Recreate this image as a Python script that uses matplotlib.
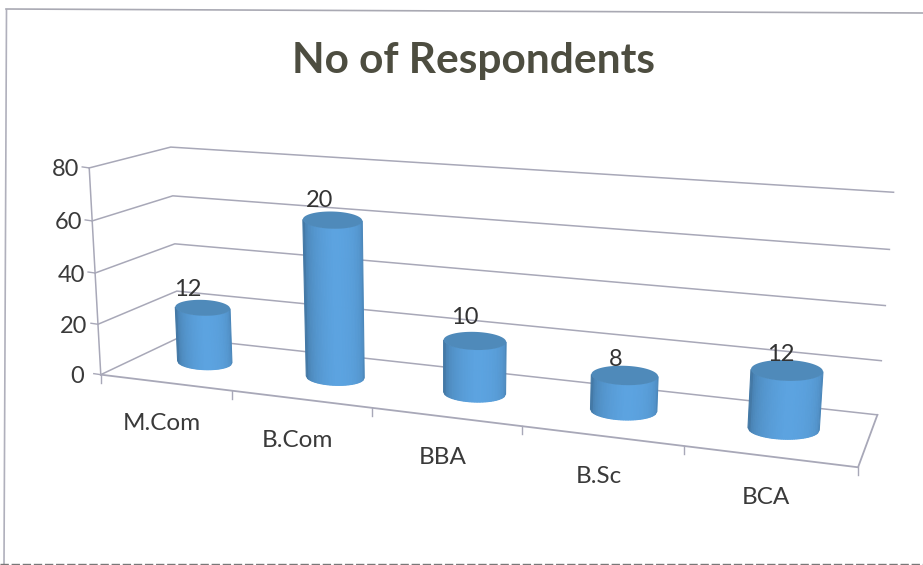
import numpy as np
from matplotlib import pyplot as plt

plt.rcParams['font.family'] = ['Lato', 'DejaVu Sans']

categories = ["M.Com", "B.Com", "BBA", "B.Sc", "BCA"]
# cylinder heights, the printed labels do not agree with them
bar_heights = [22, 61, 20, 13, 21]
bar_labels = ["12", "20", "10", "8", "12"]
y_ticks = [0, 20, 40, 60, 80]

# camera: box corners (category pos, value, depth) -> pixels in the picture
box_pts = [
    (0, 0, 0, 102, 373), (0, 20, 0, 98, 323), (0, 40, 0, 95, 273), (0, 60, 0, 92, 221), (0, 80, 0, 88, 169),
    (0, 0, 1, 178, 340), (0, 20, 1, 176, 292), (0, 40, 1, 175, 243), (0, 60, 1, 173, 195), (0, 80, 1, 172, 147),
    (5, 0, 1, 877, 413), (5, 20, 1, 882, 360), (5, 40, 1, 885, 306), (5, 60, 1, 890, 250), (5, 80, 1, 893, 192),
    (5, 0, 0, 858, 468), (1, 0, 0, 232, 390), (2, 0, 0, 372, 408), (3, 0, 0, 522, 427), (4, 0, 0, 684, 447),
]
rows = []
for u, v, d, px, py in box_pts:
    rows.append([u, v, d, 1, 0, 0, 0, 0, -px*u, -px*v, -px*d, -px])
    rows.append([0, 0, 0, 0, u, v, d, 1, -py*u, -py*v, -py*d, -py])
P = np.linalg.svd(np.array(rows, dtype=float))[2][-1].reshape(3, 4)


def proj(u, v, d):
    u, v, d = np.broadcast_arrays(u, v, d)
    h = P @ np.array([u.ravel(), v.ravel(), d.ravel(), np.ones(u.size)], dtype=float)
    return h[0] / h[2], h[1] / h[2]


def ring(cu, v, t):
    # ellipse at height v, long axis along the category direction, short axis upright
    xl, yl = proj([cu - ru, cu + ru], v, cd)
    mx, my = xl.mean(), yl.mean()
    ax_x, ax_y = (xl[1] - xl[0]) / 2, (yl[1] - yl[0]) / 2
    return mx + ax_x * np.cos(t), my + 0.3 * ax_y * np.cos(t) + 0.29 * ax_x * np.sin(t)


fig = plt.figure(figsize=(9.23, 5.65), dpi=100)
ax = fig.add_axes([0, 0, 1, 1])
ax.set_xlim(0, 923)
ax.set_ylim(565, 0)
ax.axis('off')

# chart frame of the scan
ax.plot([6.5, 4], [10, 565], color='#b0b0bc', lw=1.2)
ax.plot([6, 923], [9, 13], color='#a9a9b3', lw=1.2)
ax.plot([0, 923], [563.5, 563.5], color='#777777', lw=1, ls=(0, (6, 2)))

grid_c = '#a8a8b8'
for t in y_ticks:
    x, y = proj([0, 0, 5], t, [0, 1, 1])
    ax.plot(x, y, color=grid_c, lw=1.1)
    tx, ty = proj(0, t, 0)
    ax.plot([tx[0] - 7, tx[0]], [ty[0] - 1, ty[0]], color=grid_c, lw=1)
    ax.text(tx[0] - 24, ty[0] + 2, str(t), ha='center', va='center', fontsize=17, color='#3a3a3a')

# axes of the box
x, y = proj(0, [0, 80], 0)
ax.plot(x, y, color=grid_c, lw=1.1)
x, y = proj([0, 5, 5], 0, [0, 0, 1])
ax.plot(x, y, color=grid_c, lw=1.3)
for i in range(len(categories) + 1):
    x, y = proj(i, 0, 0)
    ax.plot([x[0], x[0]], [y[0], y[0] + 8], color=grid_c, lw=1)

# cylinders
ru, cd = 0.215, 0.52
label_dy = [-18, -20, -23, -16, -16]
t = np.arccos(np.linspace(1, -1, 41))
for i, h in enumerate(bar_heights):
    cu = i + 0.5 - 0.005
    for a, b in zip(t[:-1], t[1:]):
        tt = np.array([a, b])
        x0, y0 = ring(cu, 0, tt)
        x1, y1 = ring(cu, h, tt)
        m = (a + b) / 2
        shade = 0.72 + 0.28 * np.sin(m) ** 0.5
        if m > np.pi / 2:
            shade *= 1 - 0.12 * (m - np.pi / 2) / (np.pi / 2)
        ax.fill(np.r_[x0, x1[::-1]], np.r_[y0, y1[::-1]], color=np.array([0.36, 0.64, 0.88]) * shade,
                lw=0.8, zorder=3)
    full = np.linspace(0, 2 * np.pi, 80)
    xe, ye = ring(cu, h, full)
    ax.fill(xe, ye, color='#4f8aba', lw=0, zorder=4)
    ax.text(xe.mean() - 15 + 2 * i, ye.mean() + label_dy[i], bar_labels[i], ha='center', va='center',
            fontsize=17, color='#333333', zorder=5)
    cx, cy = proj(i + 0.5, 0, 0)
    ax.text(cx[0] - 3, cy[0] + 41, categories[i], ha='center', va='center', fontsize=17.5, color='#3a3a3a')

ax.text(474, 61, "No of Respondents", ha='center', va='center', fontsize=30.5, fontweight='bold', color='#4d4d40')

fig.savefig('out.png', dpi=100)
